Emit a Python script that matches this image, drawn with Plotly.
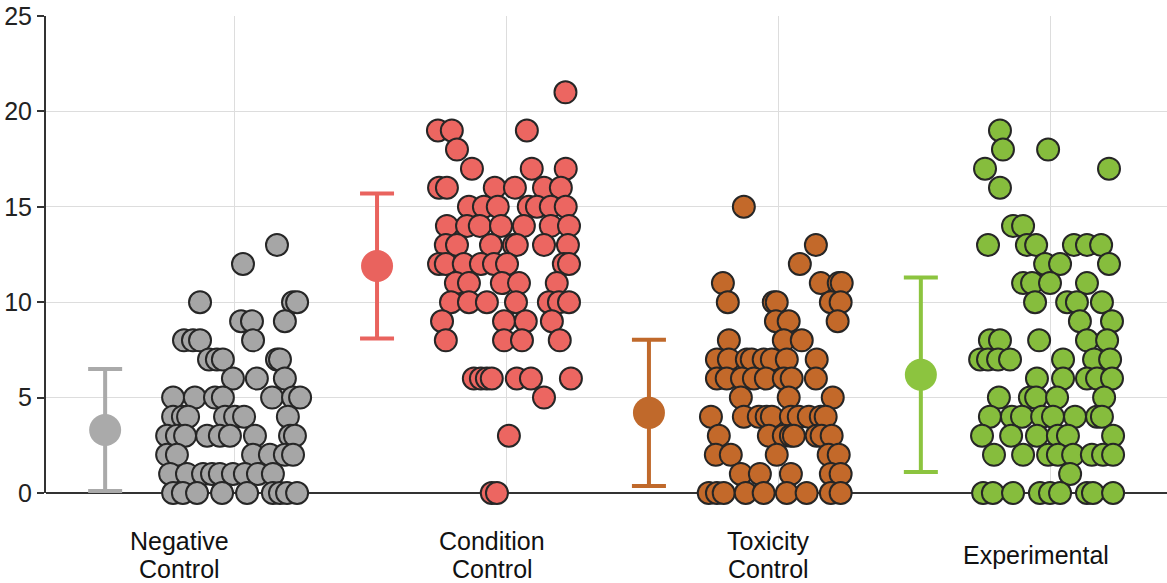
import plotly.graph_objects as go

categories = ["Negative<br>Control", "Condition<br>Control", "Toxicity<br>Control", "Experimental"]
cat_pos = [1, 2, 3, 4]

# summary (mean ± SD)
means = [3.3, 11.9, 4.2, 6.2]
sds = [3.2, 3.8, 3.83, 5.1]

# individual observations (value) and horizontal jitter (category units)
neg_values = [13, 12, 10, 10, 10, 9, 9, 9, 8, 8, 8, 8,
              7, 7, 7, 7, 7, 6, 6, 6,
              5, 5, 5, 5, 5, 5, 5,
              4, 4, 4, 4, 4, 4, 4,
              3, 3, 3, 3, 3, 3, 3, 3, 3,
              2, 2, 2, 2, 2, 2,
              1, 1, 1, 1, 1, 1, 1, 1, 1,
              0, 0, 0, 0, 0, 0, 0, 0, 0]
neg_jitter = [0.157, 0.032, -0.126, 0.216, 0.231, 0.025, 0.065, 0.186, 0.069, -0.185, -0.152, -0.126,
              -0.093, -0.064, -0.042, 0.157, 0.168, -0.005, 0.083, 0.186,
              -0.225, -0.145, -0.071, -0.042, 0.139, 0.216, 0.242,
              -0.225, -0.189, -0.170, -0.034, 0.003, 0.036, 0.197,
              -0.247, -0.211, -0.181, -0.100, -0.053, -0.016, 0.076, 0.205, 0.223,
              -0.247, -0.211, 0.069, 0.131, 0.186, 0.216,
              -0.236, -0.174, -0.115, -0.082, -0.053, -0.005, 0.039, 0.087, 0.142,
              -0.225, -0.189, -0.137, -0.045, 0.047, 0.142, 0.168, 0.194, 0.231]

cond_values = [21, 19, 19, 19, 18, 17, 17, 17,
               16, 16, 16, 16, 16, 16,
               15, 15, 15, 15, 15, 15, 15,
               14, 14, 14, 14, 14, 14, 14,
               13, 13, 13, 13, 13, 13, 13,
               12, 12, 12, 12, 12, 12, 12, 12,
               11, 11, 11, 11, 11,
               10, 10, 10, 10, 10, 10, 10,
               9, 9, 9, 9, 8, 8, 8, 8,
               6, 6, 6, 6, 6, 6, 6, 5, 3, 0, 0]
cond_jitter = [0.218, -0.251, -0.200, 0.076, -0.181, -0.126, 0.094, 0.219,
               -0.247, -0.218, -0.042, 0.032, 0.139, 0.201,
               -0.137, -0.082, -0.031, 0.083, 0.113, 0.164, 0.219,
               -0.218, -0.144, -0.097, -0.019, 0.065, 0.164, 0.231,
               -0.222, -0.181, -0.056, 0.028, 0.039, 0.139, 0.227,
               -0.247, -0.222, -0.156, -0.093, -0.045, 0.003, 0.212, 0.231,
               -0.185, -0.137, -0.016, 0.047, 0.186,
               -0.203, -0.137, -0.071, 0.036, 0.157, 0.194, 0.231,
               -0.236, -0.008, 0.072, 0.168, -0.222, -0.008, 0.058, 0.197,
               -0.119, -0.093, -0.071, -0.053, 0.039, 0.091, 0.238, 0.139, 0.010, -0.053, -0.034]

tox_values = [15, 13, 12, 11, 11, 11, 11,
              10, 10, 10, 10, 10, 9, 9, 9, 8, 8, 8,
              7, 7, 7, 7, 7, 7, 7, 7,
              6, 6, 6, 6, 6, 6, 6, 6,
              5, 5, 5,
              4, 4, 4, 4, 4, 4, 4, 4, 4, 4,
              3, 3, 3, 3, 3, 3, 3, 3,
              2, 2, 2, 2, 2,
              1, 1, 1, 1, 1,
              0, 0, 0, 0, 0, 0, 0, 0, 0]
tox_jitter = [-0.126, 0.139, 0.080, -0.203, 0.157, 0.223, 0.234,
              -0.185, -0.016, -0.005, 0.194, 0.230, -0.008, 0.039, 0.219, -0.181, 0.021, 0.087,
              -0.225, -0.181, -0.115, -0.097, -0.053, -0.023, 0.032, 0.142,
              -0.225, -0.189, -0.133, -0.089, -0.045, 0.021, 0.050, 0.139,
              -0.137, 0.039, 0.201,
              -0.247, -0.126, -0.071, -0.042, -0.023, 0.047, 0.076, 0.113, 0.157, 0.175,
              -0.218, -0.034, 0.021, 0.047, 0.058, 0.142, 0.160, 0.197,
              -0.229, -0.174, -0.005, 0.186, 0.223,
              -0.137, -0.067, 0.047, 0.194, 0.230,
              -0.255, -0.225, -0.200, -0.119, -0.053, 0.032, 0.105, 0.194, 0.230]

exp_values = [19, 18, 18, 17, 17, 16, 14, 14,
              13, 13, 13, 13, 13, 13, 12, 12, 12,
              11, 11, 11, 11, 10, 10, 10, 10, 9, 9,
              8, 8, 8, 8, 8,
              7, 7, 7, 7, 7, 7, 7,
              6, 6, 6, 6, 6,
              5, 5, 5, 5, 5,
              4, 4, 4, 4, 4, 4, 4, 4,
              3, 3, 3, 3, 3, 3,
              2, 2, 2, 2, 2, 2, 2, 2,
              1,
              0, 0, 0, 0, 0, 0, 0, 0, 0]
exp_jitter = [-0.184, -0.173, -0.007, -0.239, 0.217, -0.184, -0.136, -0.099,
              -0.228, -0.085, -0.051, 0.088, 0.136, 0.188, -0.018, 0.037, 0.217,
              -0.099, -0.066, 0.000, 0.136, -0.055, 0.063, 0.099, 0.191, 0.110, 0.228,
              -0.221, -0.184, -0.040, 0.136, 0.210,
              -0.257, -0.228, -0.191, -0.147, 0.048, 0.162, 0.221,
              -0.048, 0.048, 0.136, 0.173, 0.228,
              -0.188, -0.074, -0.051, 0.026, 0.199,
              -0.221, -0.140, -0.103, -0.029, 0.011, 0.092, 0.173, 0.191,
              -0.250, -0.143, -0.048, 0.029, 0.066, 0.232,
              -0.206, -0.099, -0.007, 0.029, 0.085, 0.154, 0.195, 0.232,
              0.074,
              -0.246, -0.210, -0.136, -0.037, 0.000, 0.037, 0.136, 0.158, 0.232]

group_values = [neg_values, cond_values, tox_values, exp_values]
group_jitter = [neg_jitter, cond_jitter, tox_jitter, exp_jitter]

point_colors = ["#a6a6a6", "#ec6661", "#c3692a", "#86bd3d"]
bar_colors = ["#aaaaaa", "#e9635e", "#c0692b", "#8cc43f"]

summary_offset = -0.475
label_offsets = [-0.2, -0.051, -0.037, -0.051]

fig = go.Figure()

for i in range(4):
    fig.add_trace(go.Scatter(
        x=[cat_pos[i] + summary_offset], y=[means[i]],
        mode="markers",
        marker=dict(size=32, color=bar_colors[i], line=dict(width=0)),
        error_y=dict(type="data", array=[sds[i]], color=bar_colors[i], thickness=4, width=17),
        cliponaxis=False, showlegend=False, hoverinfo="skip",
    ))

for i in range(4):
    fig.add_trace(go.Scatter(
        x=[cat_pos[i] + j for j in group_jitter[i]], y=group_values[i],
        mode="markers",
        marker=dict(size=22, color=point_colors[i], line=dict(width=2, color="#262626")),
        cliponaxis=False, showlegend=False,
    ))

# category labels: each line placed separately for tight line spacing
label_font = dict(size=25, color="#111111", family="Liberation Sans, Arial, sans-serif")
for i in range(4):
    lines = categories[i].split("<br>")
    n = len(lines)
    for k, line in enumerate(lines):
        py = 62 + (k - (n - 1) / 2) * 28
        fig.add_annotation(
            x=cat_pos[i] + label_offsets[i], y=-py / 477, xref="x", yref="paper",
            text=line, showarrow=False, xanchor="center", yanchor="middle",
            font=label_font,
        )

fig.update_layout(
    width=1167, height=583,
    margin=dict(l=46, r=0, t=16, b=90, autoexpand=False),
    plot_bgcolor="white", paper_bgcolor="white",
    font=dict(family="Liberation Sans, Arial, sans-serif", color="#222222"),
    xaxis=dict(range=[0.3075, 4.4303], tickvals=cat_pos, showticklabels=False,
               showgrid=True, gridcolor="#dddddd", gridwidth=1, zeroline=False,
               showline=False, ticks="", automargin=False),
    yaxis=dict(range=[0, 25], tickvals=[0, 5, 10, 15, 20, 25], showgrid=True,
               gridcolor="#dddddd", gridwidth=1, zeroline=True, zerolinecolor="#333333",
               zerolinewidth=2, showline=True, linecolor="#333333", linewidth=2,
               ticks="outside", ticklen=7, tickwidth=2, tickcolor="#333333",
               tickfont=dict(size=25, color="#222222"), automargin=False),
)

fig.write_html("out.html",
               config={"displayModeBar": False},
               post_script="document.body.style.margin='0';document.body.style.padding='0';document.body.style.overflow='hidden';")
